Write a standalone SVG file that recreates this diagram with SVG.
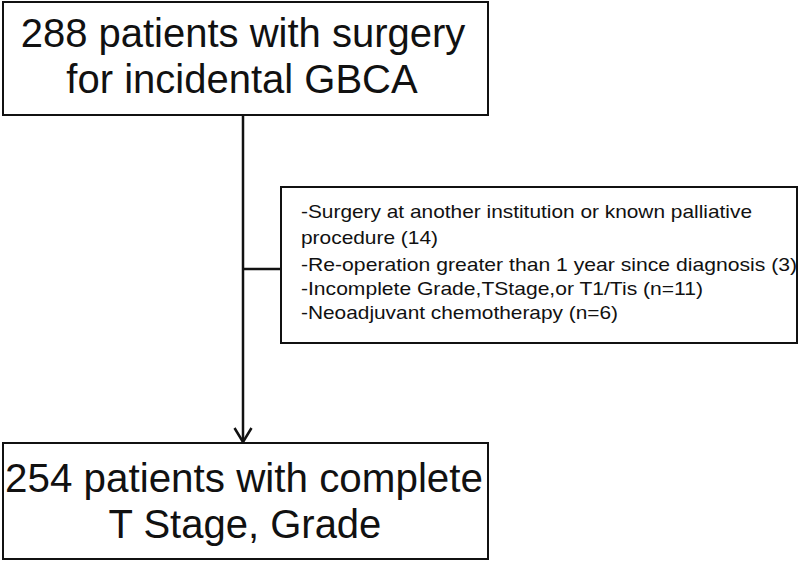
<svg xmlns="http://www.w3.org/2000/svg" width="800" height="561" viewBox="0 0 800 561">
<style>
.box{fill:#fff;stroke:#111;stroke-width:2}
.big{font-family:"Liberation Sans",Arial,sans-serif;font-size:40px;fill:#111;text-anchor:middle}
.small{font-family:"Liberation Sans",Arial,sans-serif;font-size:19px;fill:#111}
.conn{stroke:#111;stroke-width:2.5;fill:none}
</style>
<rect width="800" height="561" fill="#fff"/>
<g id="connectors">
<line class="conn" x1="243" y1="115" x2="243" y2="442"/>
<line class="conn" x1="243" y1="269" x2="281" y2="269"/>
<polyline class="conn" points="234.5,428 243,442 251.5,428"/>
</g>
<g id="node-top">
<rect class="box" x="3" y="2" width="485" height="113"/>
<text class="big" x="243" y="47">288 patients with surgery</text>
<text class="big" x="242" y="93">for incidental GBCA</text>
</g>
<g id="node-exclusions">
<rect class="box" x="281" y="187" width="516" height="156"/>
<text class="small" x="301" y="218" textLength="451" lengthAdjust="spacingAndGlyphs">-Surgery at another institution or known palliative</text>
<text class="small" x="301" y="244" textLength="137" lengthAdjust="spacingAndGlyphs">procedure (14)</text>
<text class="small" x="301" y="271" textLength="496" lengthAdjust="spacingAndGlyphs">-Re-operation greater than 1 year since diagnosis (3)</text>
<text class="small" x="301" y="295" textLength="402" lengthAdjust="spacingAndGlyphs">-Incomplete Grade,TStage,or T1/Tis (n=11)</text>
<text class="small" x="301" y="319" textLength="317" lengthAdjust="spacingAndGlyphs">-Neoadjuvant chemotherapy (n=6)</text>
</g>
<g id="node-bottom">
<rect class="box" x="3" y="443" width="485" height="116"/>
<text class="big" x="244" y="492" textLength="478" lengthAdjust="spacingAndGlyphs">254 patients with complete</text>
<text class="big" x="245" y="538">T Stage, Grade</text>
</g>
</svg>
